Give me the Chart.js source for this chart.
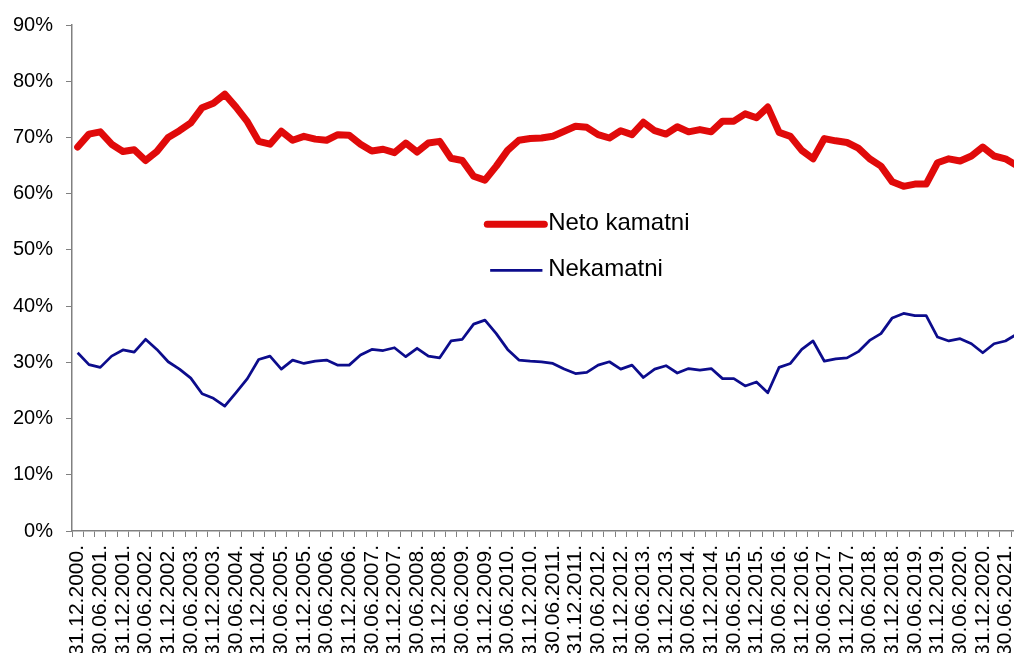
<!DOCTYPE html>
<html>
<head>
<meta charset="utf-8">
<script src="https://cdn.jsdelivr.net/npm/chart.js@4/dist/chart.umd.min.js"></script>
<style>
  html, body { margin: 0; padding: 0; background: #fff; overflow: hidden; }
  #wrap { position: absolute; left: 0; top: 0; width: 1050px; height: 700px; }
</style>
</head>
<body>
<div id="wrap"><canvas id="chart" width="1050" height="700"></canvas></div>
<script>
const quarters = [
  "31.12.2000.",
  "31.03.2001.", "30.06.2001.", "30.09.2001.", "31.12.2001.",
  "31.03.2002.", "30.06.2002.", "30.09.2002.", "31.12.2002.",
  "31.03.2003.", "30.06.2003.", "30.09.2003.", "31.12.2003.",
  "31.03.2004.", "30.06.2004.", "30.09.2004.", "31.12.2004.",
  "31.03.2005.", "30.06.2005.", "30.09.2005.", "31.12.2005.",
  "31.03.2006.", "30.06.2006.", "30.09.2006.", "31.12.2006.",
  "31.03.2007.", "30.06.2007.", "30.09.2007.", "31.12.2007.",
  "31.03.2008.", "30.06.2008.", "30.09.2008.", "31.12.2008.",
  "31.03.2009.", "30.06.2009.", "30.09.2009.", "31.12.2009.",
  "31.03.2010.", "30.06.2010.", "30.09.2010.", "31.12.2010.",
  "31.03.2011.", "30.06.2011.", "30.09.2011.", "31.12.2011.",
  "31.03.2012.", "30.06.2012.", "30.09.2012.", "31.12.2012.",
  "31.03.2013.", "30.06.2013.", "30.09.2013.", "31.12.2013.",
  "31.03.2014.", "30.06.2014.", "30.09.2014.", "31.12.2014.",
  "31.03.2015.", "30.06.2015.", "30.09.2015.", "31.12.2015.",
  "31.03.2016.", "30.06.2016.", "30.09.2016.", "31.12.2016.",
  "31.03.2017.", "30.06.2017.", "30.09.2017.", "31.12.2017.",
  "31.03.2018.", "30.06.2018.", "30.09.2018.", "31.12.2018.",
  "31.03.2019.", "30.06.2019.", "30.09.2019.", "31.12.2019.",
  "31.03.2020.", "30.06.2020.", "30.09.2020.", "31.12.2020.",
  "31.03.2021.", "30.06.2021.", "30.09.2021."
];

// shares in percent
const netoKamatni = [
  68.3,
  70.6, 71.0, 68.8, 67.5,
  67.8, 65.9, 67.5, 70.0,
  71.2, 72.6, 75.3, 76.1,
  77.7, 75.4, 72.8, 69.3,
  68.8, 71.1, 69.5, 70.2,
  69.7, 69.5, 70.5, 70.4,
  68.8, 67.6, 67.9, 67.3,
  69.0, 67.4, 69.0, 69.3,
  66.3, 65.9, 63.1, 62.4,
  64.9, 67.7, 69.5, 69.8,
  69.9, 70.2, 71.1, 72.0,
  71.8, 70.5, 69.9, 71.2,
  70.5, 72.7, 71.2, 70.6,
  71.9, 71.0, 71.4, 71.0,
  72.9, 72.9, 74.2, 73.5,
  75.4, 70.9, 70.2, 67.7,
  66.2, 69.8, 69.4, 69.1,
  68.1, 66.2, 64.9, 62.1,
  61.3, 61.7, 61.7, 65.5,
  66.2, 65.8, 66.7, 68.3,
  66.7, 66.2, 65.0
];

const nekamatni = [
  31.7,
  29.6, 29.1, 31.1, 32.2,
  31.8, 34.1, 32.3, 30.1,
  28.8, 27.2, 24.4, 23.6,
  22.2, 24.6, 27.1, 30.5,
  31.1, 28.8, 30.4, 29.8,
  30.2, 30.4, 29.5, 29.5,
  31.3, 32.3, 32.1, 32.6,
  31.0, 32.5, 31.1, 30.8,
  33.8, 34.1, 36.8, 37.5,
  35.1, 32.3, 30.4, 30.2,
  30.1, 29.8, 28.8, 28.0,
  28.2, 29.5, 30.1, 28.8,
  29.5, 27.3, 28.8, 29.4,
  28.1, 28.9, 28.6, 28.9,
  27.1, 27.1, 25.8, 26.5,
  24.6, 29.1, 29.8, 32.3,
  33.8, 30.2, 30.6, 30.8,
  31.9, 33.9, 35.1, 37.9,
  38.7, 38.3, 38.3, 34.5,
  33.8, 34.2, 33.3, 31.7,
  33.3, 33.8, 35.0
];

const FONT = "'Liberation Sans', Arial, sans-serif";
const AXIS_GRAY = "#808080";
const RED = "#e00a0a";
const NAVY = "#0c0c8c";

// legend drawn inside the plot, like the original
const inlineLegend = {
  id: "inlineLegend",
  afterDatasetsDraw(chart) {
    const { ctx, chartArea: a } = chart;
    const w = a.right - a.left;
    const h = a.bottom - a.top;
    const rows = [
      { ds: chart.data.datasets[0], x1: 0.437, x2: 0.497, y: 0.394 },
      { ds: chart.data.datasets[1], x1: 0.440, x2: 0.495, y: 0.485 },
    ];
    ctx.save();
    ctx.font = `24px ${FONT}`;
    ctx.textBaseline = "middle";
    ctx.fillStyle = "#000";
    rows.forEach((r) => {
      ctx.beginPath();
      ctx.strokeStyle = r.ds.borderColor;
      ctx.lineWidth = r.ds.borderWidth;
      ctx.lineCap = r.ds.borderWidth > 4 ? "round" : "butt";
      ctx.moveTo(a.left + r.x1 * w, a.top + r.y * h);
      ctx.lineTo(a.left + r.x2 * w, a.top + r.y * h);
      ctx.stroke();
      ctx.fillText(r.ds.label, a.left + 0.501 * w, a.top + r.y * h - 1);
    });
    ctx.restore();
  },
};

new Chart(document.getElementById("chart"), {
  type: "line",
  data: {
    labels: quarters,
    datasets: [
      {
        label: "Neto kamatni",
        data: netoKamatni,
        borderColor: RED,
        borderWidth: 7,
        borderJoinStyle: "round",
        borderCapStyle: "round",
        pointRadius: 0,
        tension: 0,
      },
      {
        label: "Nekamatni",
        data: nekamatni,
        borderColor: NAVY,
        borderWidth: 2.75,
        borderJoinStyle: "round",
        pointRadius: 0,
        tension: 0,
      },
    ],
  },
  options: {
    responsive: false,
    animation: false,
    devicePixelRatio: 1,
    layout: { padding: { top: 22, right: 16, left: 0, bottom: 0 } },
    plugins: {
      legend: { display: false },
      tooltip: { enabled: false },
    },
    scales: {
      x: {
        offset: true,
        afterFit: (scale) => { scale.height = 169; },
        border: { display: true, color: AXIS_GRAY, width: 1.5 },
        grid: {
          offset: true,
          drawOnChartArea: false,
          drawTicks: true,
          tickLength: 6,
          color: AXIS_GRAY,
        },
        ticks: {
          autoSkip: false,
          maxRotation: 90,
          minRotation: 90,
          padding: 8,
          color: "#000",
          font: { family: FONT, size: 21 },
          callback: (v, i) => (i % 2 === 0 ? quarters[i] : ""),
        },
      },
      y: {
        min: 0,
        max: 90,
        afterFit: (scale) => { scale.width = 72; },
        border: { display: true, color: AXIS_GRAY, width: 1.5 },
        grid: {
          drawOnChartArea: false,
          drawTicks: true,
          tickLength: 6,
          color: AXIS_GRAY,
        },
        ticks: {
          stepSize: 10,
          padding: 13,
          color: "#000",
          font: { family: FONT, size: 20 },
          callback: (v) => `${v}%`,
        },
      },
    },
  },
  plugins: [inlineLegend],
});
</script>
</body>
</html>
